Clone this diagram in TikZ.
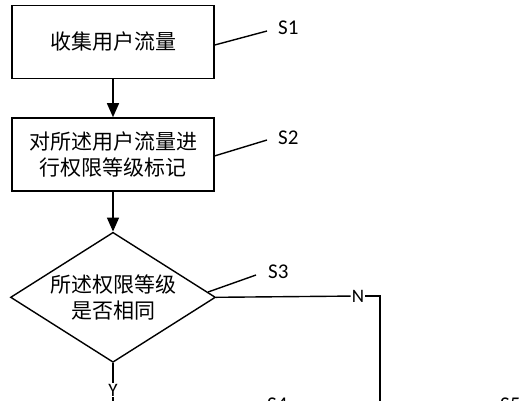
\documentclass[tikz,border=0pt]{standalone}
\usepackage{fontspec}
\setmainfont{Carlito}
\newfontfamily\cjk{Noto Sans CJK SC}
\usetikzlibrary{positioning,shapes.geometric,arrows.meta,calc}
\tikzset{
  stepBox/.style={%
    draw,
    rectangle,
    line width=1.4pt,
    minimum width=202pt,
    minimum height=73pt,
    align=center,
    font=\cjk\fontsize{21}{26}\selectfont},
  decisionBox/.style={%
    draw,
    diamond,
    aspect=1.6,
    line width=1.4pt,
    inner sep=0pt,
    minimum width=205pt,
    minimum height=130pt,
    align=center,
    font=\cjk\fontsize{21}{26}\selectfont},
  stepLabel/.style={%
    anchor=west,
    inner sep=0pt,
    font=\fontsize{21}{21}\selectfont},
  branchLabel/.style={%
    inner sep=1pt,
    font=\fontsize{19}{19}\selectfont},
  flowArrow/.style={%
    line width=1.4pt,
    -{Triangle[length=14pt,width=12pt]}},
  leaderLine/.style={line width=1.4pt},
  }

\begin{document}
\begin{tikzpicture}[x=1pt,y=1pt]
  \useasboundingbox (0,0) rectangle (526,-400);
  \node[stepBox] (collect) at (113,-42) {收集用户流量};
  \node[stepBox,below=38pt of collect] (mark) {对所述用户流量进\\行权限等级标记};
  \node[decisionBox,below=40pt of mark] (compare) {所述权限等级\\是否相同};
  \draw[flowArrow] (collect) -- (mark);
  \draw[flowArrow] (mark) -- (compare);
  % step labels
  \node[stepLabel] (s1) at (278,-28) {S1};
  \node[stepLabel] (s2) at (278,-138) {S2};
  \node[stepLabel] (s3) at (268,-272) {S3};
  \node[stepLabel] (s4) at (267,-405) {S4};
  \node[stepLabel] (s5) at (500,-405) {S5};
  \draw[leaderLine] ([yshift=-3pt]collect.east) -- ([xshift=-11pt,yshift=-3pt]s1.west);
  \draw[leaderLine] ([yshift=-1.5pt]mark.east) -- ([xshift=-11pt,yshift=-2pt]s2.west);
  \draw[leaderLine] ($(compare.east)!0.08!(compare.north)$) -- ([xshift=-12pt,yshift=-3pt]s3.west);
  % branches
  \node[branchLabel] (no) at (358,-296) {N};
  \node[branchLabel] (yes) at (113,-390) {Y};
  \coordinate (noTurn) at (380,-296);
  \draw[leaderLine] (compare.east) -- (no);
  \draw[leaderLine] (no) -- (noTurn) -- ++(0,-120);
  \draw[leaderLine] (compare.south) -- (yes);
  \draw[leaderLine] (yes) -- ++(0,-30);
\end{tikzpicture}
\end{document}
